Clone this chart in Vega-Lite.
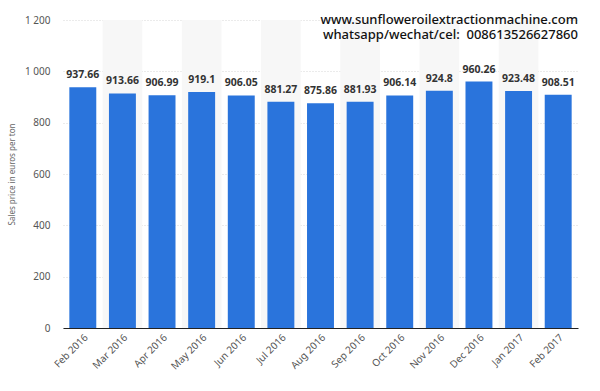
{
  "$schema": "https://vega.github.io/schema/vega-lite/v6.json",
  "autosize": "none",
  "width": 515,
  "height": 308,
  "padding": {"left": 63, "top": 20, "right": 22, "bottom": 63},
  "background": "white",
  "title": {
    "text": "www.sunfloweroilextractionmachine.com",
    "subtitle": "whatsapp/wechat/cel:\u00a0\u00a0008613526627860",
    "anchor": "end",
    "frame": "group",
    "orient": "top",
    "baseline": "top",
    "offset": -27,
    "font": "Noto Sans",
    "fontSize": 13,
    "fontWeight": 500,
    "color": "#111111",
    "subtitleFont": "Noto Sans",
    "subtitleFontSize": 13,
    "subtitleFontWeight": 500,
    "subtitleColor": "#111111",
    "subtitlePadding": 2,
    "lineHeight": 14,
    "subtitleLineHeight": 14
  },
  "datasets": {
    "prices": [
      {"month": "Feb 2016", "price": 937.66},
      {"month": "Mar 2016", "price": 913.66},
      {"month": "Apr 2016", "price": 906.99},
      {"month": "May 2016", "price": 919.1},
      {"month": "Jun 2016", "price": 906.05},
      {"month": "Jul 2016", "price": 881.27},
      {"month": "Aug 2016", "price": 875.86},
      {"month": "Sep 2016", "price": 881.93},
      {"month": "Oct 2016", "price": 906.14},
      {"month": "Nov 2016", "price": 924.8},
      {"month": "Dec 2016", "price": 960.26},
      {"month": "Jan 2017", "price": 923.48},
      {"month": "Feb 2017", "price": 908.51}
    ],
    "bands": [
      {"month": "Mar 2016"},
      {"month": "May 2016"},
      {"month": "Jul 2016"},
      {"month": "Sep 2016"},
      {"month": "Nov 2016"},
      {"month": "Jan 2017"}
    ]
  },
  "encoding": {
    "x": {
      "field": "month",
      "type": "nominal",
      "sort": null,
      "scale": {"domain": ["Feb 2016","Mar 2016","Apr 2016","May 2016","Jun 2016","Jul 2016","Aug 2016","Sep 2016","Oct 2016","Nov 2016","Dec 2016","Jan 2017","Feb 2017"], "paddingInner": 0.32, "paddingOuter": 0.16},
      "axis": {
        "title": null,
        "labelAngle": -45,
        "labelAlign": "right",
        "labelBaseline": "top",
        "labelFont": "Noto Sans",
        "labelFontSize": 10,
        "labelColor": "#555555",
        "labelPadding": 4,
        "ticks": false,
        "domainColor": "#222222",
        "domainWidth": 1.2,
        "grid": false
      }
    }
  },
  "layer": [
    {
      "data": {"name": "bands"},
      "mark": {"type": "bar", "color": "#f7f7f7", "width": {"band": 1.47}},
      "encoding": {
        "y": {"datum": 1200, "type": "quantitative"},
        "y2": {"datum": 0}
      }
    },
    {
      "data": {"name": "prices"},
      "mark": {"type": "bar", "color": "#2a74dc"},
      "encoding": {
        "y": {
          "field": "price",
          "type": "quantitative",
          "scale": {"domain": [0, 1200], "nice": false},
          "axis": {
            "title": "Sales price in euros per ton",
            "titleFont": "Noto Sans",
            "titleFontSize": 8,
            "titleFontWeight": "normal",
            "titleColor": "#666666",
            "titlePadding": 8,
            "values": [0, 200, 400, 600, 800, 1000, 1200],
            "labelExpr": "replace(format(datum.value, ','), ',', ' ')",
            "labelFont": "Noto Sans",
            "labelFontSize": 10,
            "labelColor": "#555555",
            "labelPadding": 13,
            "ticks": false,
            "domain": false,
            "grid": true,
            "gridColor": "#d6d6d6",
            "gridDash": [1, 2],
            "gridWidth": 1
          }
        }
      }
    },
    {
      "data": {"name": "prices"},
      "mark": {"type": "text", "baseline": "bottom", "dy": -7, "font": "Noto Sans", "fontSize": 10.5, "fontWeight": "bold", "color": "#333333"},
      "encoding": {
        "y": {"field": "price", "type": "quantitative"},
        "text": {"field": "price", "type": "quantitative", "format": ""}
      }
    }
  ],
  "config": {
    "view": {"stroke": null}
  }
}
